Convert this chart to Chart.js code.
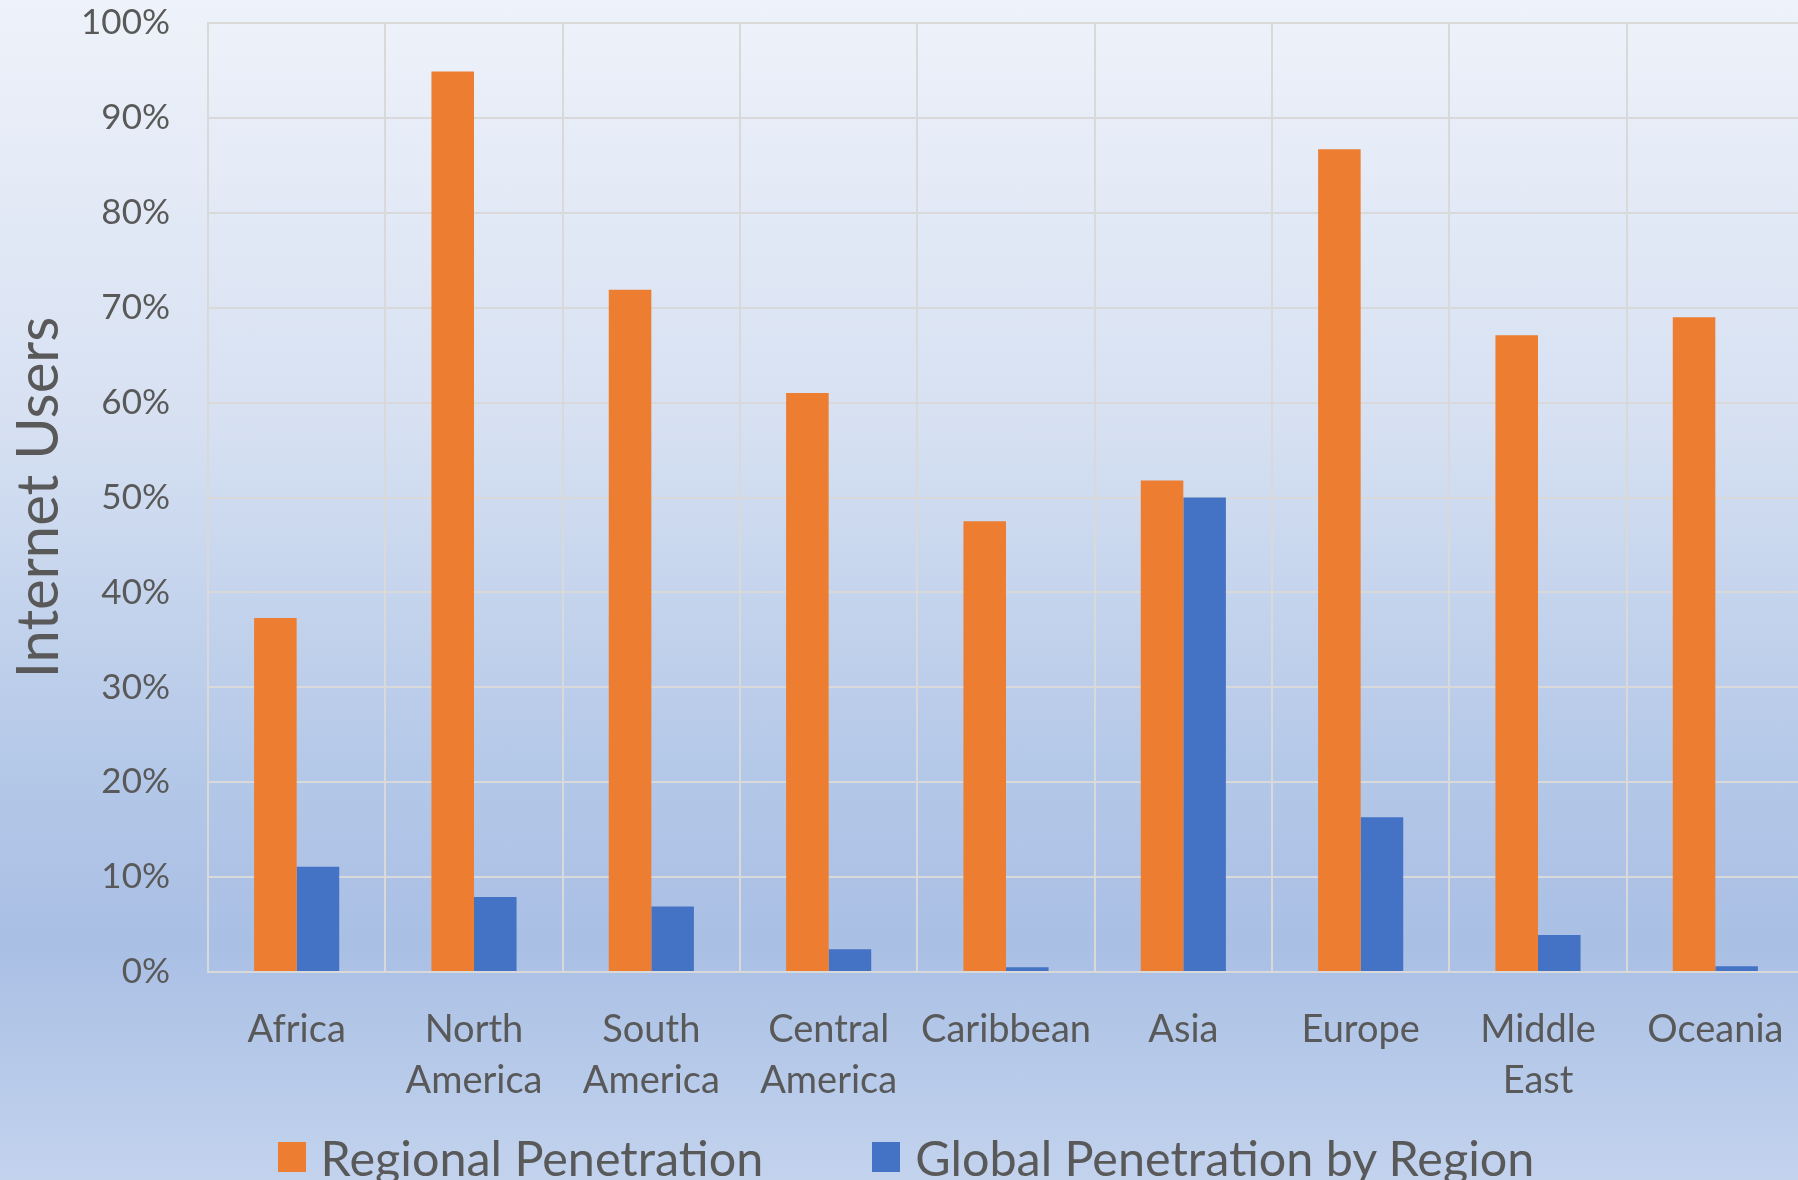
<!DOCTYPE html>
<html>
<head>
<meta charset="utf-8">
<script src="https://cdn.jsdelivr.net/npm/chart.js@4.4.1/dist/chart.umd.min.js"></script>
<style>
  html, body {
    margin: 0;
    padding: 0;
    width: 1798px;
    height: 1180px;
    overflow: hidden;
    background: linear-gradient(to bottom, #EEF2FA 0%, #D7E1F2 35%, #B4C8E8 65%, #A9BFE4 80%, #C3D3EE 100%);
    font-family: Lato, sans-serif;
  }
  #wrap {
    position: relative;
    width: 1804px;
    height: 1180px;
  }
  #legend {
    position: absolute;
    left: 4px;
    top: 1127px;
    width: 1804px;
    display: flex;
    justify-content: center;
    gap: 109px;
    font-size: 48.5px;
    color: #595959;
    line-height: 60px;
    white-space: nowrap;
  }
  #legend .item { display: flex; align-items: center; }
  #legend .box { width: 28px; height: 30px; margin-right: 15px; }
</style>
</head>
<body>
<div id="wrap">
  <canvas id="chart" width="1804" height="1180"></canvas>
  <div id="legend"></div>
</div>
<script>
Chart.defaults.font.family = 'Lato, sans-serif';
Chart.defaults.color = '#595959';

const textColor = '#595959';
const gridColor = '#D9D9D9';

const regions = [
  'Africa', ['North', 'America'], ['South', 'America'], ['Central', 'America'],
  'Caribbean', 'Asia', 'Europe', ['Middle', 'East'], 'Oceania'
];
const regionalPenetration = [37.3, 94.9, 71.9, 61.0, 47.5, 51.8, 86.7, 67.1, 69.0];
const globalPenetration = [11.1, 7.9, 6.9, 2.4, 0.5, 50.0, 16.3, 3.9, 0.6];
const seriesNames = ['Regional Penetration', 'Global Penetration by Region'];
const seriesColors = ['#ED7D31', '#4472C4'];

const ctx = document.getElementById('chart');

const chart = new Chart(ctx, {
  type: 'bar',
  data: {
    labels: regions,
    datasets: [
      {
        label: seriesNames[0],
        data: regionalPenetration,
        backgroundColor: seriesColors[0]
      },
      {
        label: seriesNames[1],
        data: globalPenetration,
        backgroundColor: seriesColors[1]
      }
    ]
  },
  options: {
    responsive: false,
    animation: false,
    layout: {
      padding: { top: 23, right: 0, bottom: 0, left: 0 }
    },
    datasets: {
      bar: {
        barPercentage: 1,
        categoryPercentage: 0.48
      }
    },
    plugins: {
      legend: { display: false },
      tooltip: { enabled: false }
    },
    scales: {
      x: {
        grid: {
          color: gridColor,
          lineWidth: 2,
          drawTicks: false
        },
        border: { color: gridColor, width: 2 },
        ticks: {
          color: textColor,
          padding: 32,
          maxRotation: 0,
          autoSkip: false,
          font: { size: 38, lineHeight: 1.35 }
        },
        afterFit: (scale) => {
          scale.height = 208;
          scale.paddingLeft = 0;
          scale.paddingRight = 0;
        }
      },
      y: {
        min: 0,
        max: 100,
        grid: {
          color: gridColor,
          lineWidth: 2,
          drawTicks: false
        },
        border: { color: gridColor, width: 2 },
        ticks: {
          stepSize: 10,
          color: textColor,
          padding: 38,
          font: { size: 35 },
          callback: (v) => v + '%'
        },
        title: {
          display: true,
          text: 'Internet Users',
          color: textColor,
          font: { size: 58 },
          padding: { top: 4, bottom: 0 }
        },
        afterFit: (scale) => {
          scale.width = 208;
          scale.paddingTop = 0;
          scale.paddingBottom = 0;
        }
      }
    }
  }
});

// legend below the axis, built from the chart's datasets
const legendEl = document.getElementById('legend');
chart.data.datasets.forEach((ds) => {
  const item = document.createElement('div');
  item.className = 'item';
  const box = document.createElement('span');
  box.className = 'box';
  box.style.background = ds.backgroundColor;
  const label = document.createElement('span');
  label.textContent = ds.label;
  item.appendChild(box);
  item.appendChild(label);
  legendEl.appendChild(item);
});
</script>
</body>
</html>
